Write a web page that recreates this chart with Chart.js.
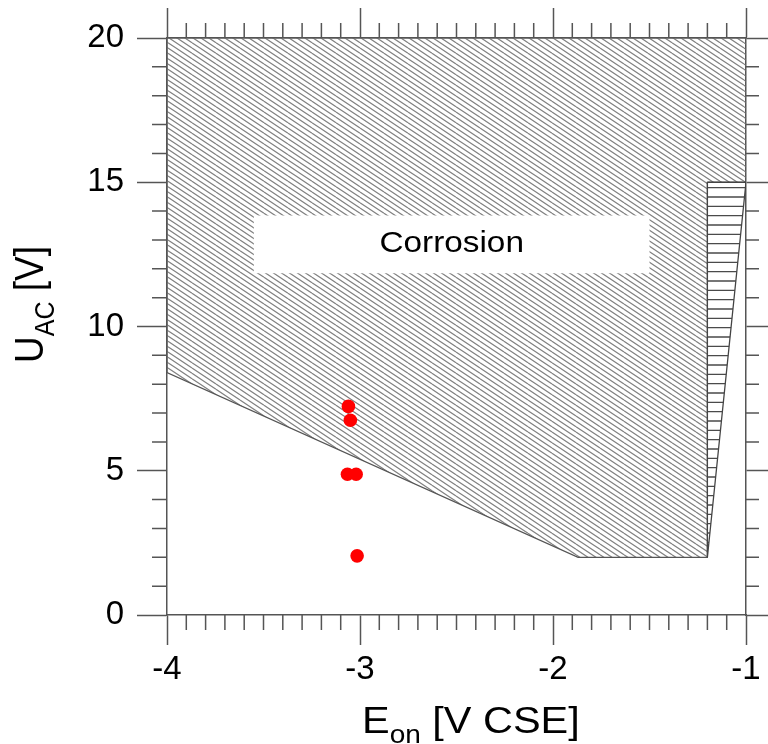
<!DOCTYPE html>
<html><head><meta charset="utf-8">
<script src="https://cdn.jsdelivr.net/npm/chart.js@4.4.0/dist/chart.umd.min.js"></script>
<style>html,body{margin:0;padding:0;background:#fff;}#wrap{width:768px;height:744px;}</style>
</head><body><div id="wrap"><canvas id="c" width="768" height="744"></canvas></div>
<script>
// ---- data ----
const xTickValues = [-4, -3, -2, -1];
const xTickLabels = ['-4', '-3', '-2', '-1'];
const yTickValues = [0, 5, 10, 15, 20];
const yTickLabels = ['0', '5', '10', '15', '20'];
const xTitleMain = 'E', xTitleSub = 'on', xTitleRest = ' [V CSE]';
const yTitleMain = 'U', yTitleSub = 'AC', yTitleRest = ' [V]';
const regionLabel = 'Corrosion';

const corrosionX = [-4, -1, -1, -1.2, -1.2, -1.87, -4, -4];
const corrosionY = [20, 20, 15, 15, 2, 2, 8.4, 20];
const transitionX = [-1.2, -1, -1.2, -1.2];
const transitionY = [15, 15, 2, 15];
const labelBoxX = [-3.55, -1.5, -1.5, -3.55, -3.55];
const labelBoxY = [13.85, 13.85, 11.85, 11.85, 13.85];
const measX = [-3.06, -3.05, -3.065, -3.02, -3.015];
const measY = [7.23, 6.75, 4.88, 4.88, 2.05];

const zip = (xs, ys) => xs.map((v, i) => ({x: v, y: ys[i]}));
const FONT = "'Liberation Sans', Arial, sans-serif";

function diagPattern() {
  const t = document.createElement('canvas'); t.width = 24; t.height = 16;
  const g = t.getContext('2d');
  g.strokeStyle = '#808080'; g.lineWidth = 1.2;
  g.beginPath();
  for (let k = -4; k <= 4; k++) { g.moveTo(0, k * 16 / 3); g.lineTo(24, k * 16 / 3 + 16); }
  g.stroke();
  return g.createPattern(t, 'repeat');
}
function horizPattern() {
  const t = document.createElement('canvas'); t.width = 8; t.height = 28;
  const g = t.getContext('2d');
  g.strokeStyle = '#4a4a4a'; g.lineWidth = 1.4;
  g.beginPath();
  for (let k = 0; k < 3; k++) { const yy = 1 + k * 28 / 3; g.moveTo(0, yy); g.lineTo(8, yy); }
  g.stroke();
  return g.createPattern(t, 'repeat');
}

const AXC = '#555';

const textPlugin = {
  id: 'texts',
  afterDatasetsDraw(chart) {
    const {ctx, scales: {x, y}, chartArea: a} = chart;
    // minor ticks
    ctx.save();
    ctx.strokeStyle = AXC; ctx.lineWidth = 1.5;
    ctx.beginPath();
    for (let i = 1; i < 30; i++) {
      if (i % 10 === 0) continue;
      const px = x.getPixelForValue(-4 + i / 10);
      ctx.moveTo(px, a.bottom); ctx.lineTo(px, a.bottom + 15);
      ctx.moveTo(px, a.top); ctx.lineTo(px, a.top - 15);
    }
    for (let j = 1; j < 20; j++) {
      if (j % 5 === 0) continue;
      const py = y.getPixelForValue(j);
      ctx.moveTo(a.left, py); ctx.lineTo(a.left - 15, py);
      ctx.moveTo(a.right, py); ctx.lineTo(a.right + 13, py);
    }
    ctx.stroke();
    // region label
    const cx = x.getPixelForValue((labelBoxX[0] + labelBoxX[1]) / 2);
    const cy = y.getPixelForValue((labelBoxY[0] + labelBoxY[2]) / 2);
    ctx.translate(cx, cy); ctx.scale(1.15, 1);
    ctx.fillStyle = '#000'; ctx.font = '29px ' + FONT;
    ctx.textAlign = 'center'; ctx.textBaseline = 'middle';
    ctx.fillText(regionLabel, 0, 0);
    ctx.restore();
  },
  afterDraw(chart) {
    const {ctx} = chart;
    const sx = 1.12;
    // x title
    ctx.save();
    ctx.fillStyle = '#000'; ctx.textBaseline = 'alphabetic'; ctx.textAlign = 'left';
    ctx.translate(362, 733); ctx.scale(sx, 1);
    ctx.font = '37px ' + FONT;
    let w = ctx.measureText(xTitleMain).width;
    ctx.fillText(xTitleMain, 0, 0);
    ctx.font = '25px ' + FONT;
    ctx.fillText(xTitleSub, w, 10);
    w += ctx.measureText(xTitleSub).width;
    ctx.font = '37px ' + FONT;
    ctx.fillText(xTitleRest, w, 0);
    ctx.restore();
    // y title
    ctx.save();
    ctx.fillStyle = '#000'; ctx.textBaseline = 'alphabetic'; ctx.textAlign = 'left';
    ctx.translate(43, 363); ctx.scale(sx, 1); ctx.rotate(-Math.PI / 2);
    ctx.font = '37px ' + FONT;
    w = ctx.measureText(yTitleMain).width;
    ctx.fillText(yTitleMain, 0, 0);
    ctx.font = '25px ' + FONT;
    ctx.fillText(yTitleSub, w, 10);
    w += ctx.measureText(yTitleSub).width;
    ctx.font = '37px ' + FONT;
    ctx.fillText(yTitleRest, w, 0);
    ctx.restore();
  }
};

const data = {
  datasets: [
    {label: 'measured', data: zip(measX, measY), backgroundColor: '#ff0000', borderWidth: 0,
     pointRadius: 6.8, showLine: false, order: 0},
    {label: 'labelbox', data: zip(labelBoxX, labelBoxY), showLine: true, fill: 'shape',
     backgroundColor: '#ffffff', borderWidth: 0, borderColor: 'rgba(0,0,0,0)', pointRadius: 0, tension: 0, order: 1},
    {label: 'transition', data: zip(transitionX, transitionY), showLine: true, fill: 'shape',
     backgroundColor: horizPattern(), borderColor: '#444', borderWidth: 1.3, pointRadius: 0, tension: 0, order: 2},
    {label: 'corrosion', data: zip(corrosionX, corrosionY), showLine: true, fill: 'shape',
     backgroundColor: diagPattern(), borderColor: '#555', borderWidth: 1.2, pointRadius: 0, tension: 0, order: 3},
  ]
};

const tickFont = {family: FONT, size: 33};
new Chart(document.getElementById('c'), {
  type: 'scatter',
  data,
  options: {
    responsive: false, animation: false, devicePixelRatio: 1,
    layout: {padding: 0},
    plugins: {legend: {display: false}, tooltip: {enabled: false}},
    scales: {
      x: {type: 'linear', position: 'bottom', min: -4, max: -1,
          afterFit(s) { s.height = 129; },
          afterBuildTicks(s) { s.ticks = xTickValues.map(v => ({value: v})); },
          ticks: {callback: v => xTickLabels[xTickValues.indexOf(v)], font: tickFont, color: '#000', padding: 5, maxRotation: 0, autoSkip: false},
          grid: {drawOnChartArea: false, tickLength: 30, tickColor: AXC, tickWidth: 1.5},
          border: {color: AXC, width: 1.5}},
      x2: {type: 'linear', position: 'top', min: -4, max: -1,
          afterFit(s) { s.height = 38; },
          afterBuildTicks(s) { s.ticks = xTickValues.map(v => ({value: v})); },
          ticks: {display: false},
          grid: {drawOnChartArea: false, tickLength: 30, tickColor: AXC, tickWidth: 1.5},
          border: {color: AXC, width: 1.5}},
      y: {type: 'linear', position: 'left', min: 0, max: 20,
          afterFit(s) { s.width = 167; },
          afterBuildTicks(s) { s.ticks = yTickValues.map(v => ({value: v})); },
          ticks: {callback: v => yTickLabels[yTickValues.indexOf(v)], font: tickFont, color: '#000', padding: 13},
          grid: {drawOnChartArea: false, tickLength: 30, tickColor: AXC, tickWidth: 1.5},
          border: {color: AXC, width: 1.5}},
      y2: {type: 'linear', position: 'right', min: 0, max: 20,
          afterFit(s) { s.width = 22; },
          afterBuildTicks(s) { s.ticks = yTickValues.map(v => ({value: v})); },
          ticks: {display: false},
          grid: {drawOnChartArea: false, tickLength: 22, tickColor: AXC, tickWidth: 1.5},
          border: {color: AXC, width: 1.5}}
    }
  },
  plugins: [textPlugin]
});
</script></body></html>
